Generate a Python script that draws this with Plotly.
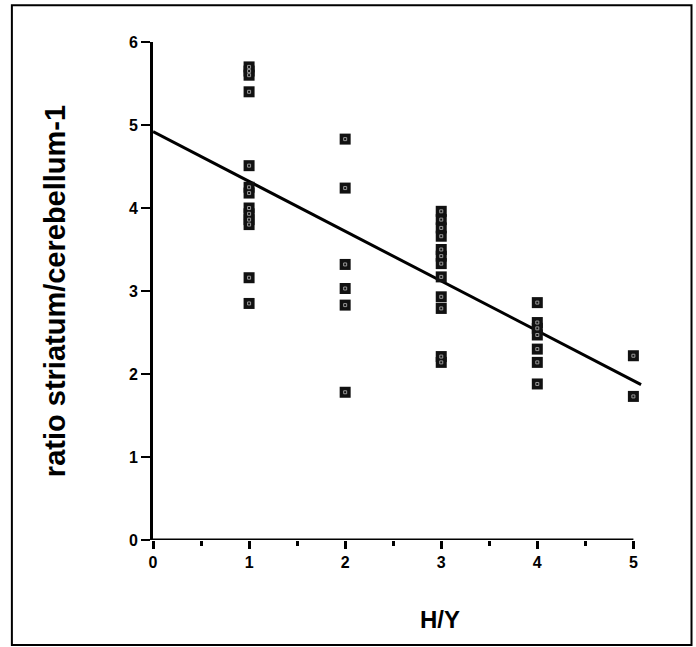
import plotly.graph_objects as go

# Data
hy_stage = [1]*13 + [2]*6 + [3]*12 + [4]*7 + [5]*2
ratio = [5.70, 5.65, 5.60, 5.40, 4.51, 4.25, 4.18, 4.00, 3.93, 3.86, 3.80, 3.16, 2.85,
         4.83, 4.24, 3.32, 3.03, 2.83, 1.78,
         3.96, 3.86, 3.76, 3.66, 3.50, 3.42, 3.33, 3.17, 2.93, 2.79, 2.21, 2.14,
         2.86, 2.62, 2.55, 2.47, 2.30, 2.14, 1.88,
         2.22, 1.73]

fit_intercept = 4.92
fit_slope = -0.60
fit_x = [0, 5.08]
fit_y = [fit_intercept + fit_slope * v for v in fit_x]

x_ticks = [0, 1, 2, 3, 4, 5]
y_ticks = [0, 1, 2, 3, 4, 5, 6]

FONT = "Liberation Sans"

fig = go.Figure()
fig.add_trace(go.Scatter(x=fit_x, y=fit_y, mode="lines",
                         line=dict(color="black", width=3), hoverinfo="skip"))
fig.add_trace(go.Scatter(x=hy_stage, y=ratio, mode="markers",
                         marker=dict(symbol="square", size=11, color="#111",
                                     line=dict(width=0)), cliponaxis=False))
fig.add_trace(go.Scatter(x=hy_stage, y=ratio, mode="markers",
                         marker=dict(symbol="square-open", size=3, color="#999",
                                     line=dict(width=1, color="#999")), cliponaxis=False))

fig.update_layout(
    width=696, height=647,
    margin=dict(l=153, r=53.4, t=42, b=107),
    paper_bgcolor="white", plot_bgcolor="white",
    showlegend=False,
    font=dict(family=FONT, color="black"),
    xaxis=dict(range=[0, 5.1], tickvals=x_ticks, ticks="outside", ticklen=8,
               tickwidth=3, tickcolor="black", showline=False, showgrid=False,
               zeroline=False,
               tickfont=dict(size=16, family=FONT, weight="bold"),
               minor=dict(tickvals=[0.5, 1.5, 2.5, 3.5, 4.5], ticks="outside",
                          ticklen=5, tickwidth=3, tickcolor="black")),
    yaxis=dict(range=[0, 6], tickvals=y_ticks, ticks="outside", ticklen=9,
               tickwidth=2, tickcolor="black", showline=True, linewidth=3,
               linecolor="black", showgrid=False, zeroline=False,
               tickfont=dict(size=16, family=FONT, weight="bold"),
               title=dict(text="ratio striatum/cerebellum-1",
                          font=dict(size=29, family=FONT, weight="bold"),
                          standoff=55)),
    annotations=[
        dict(text="H/Y", xref="paper", yref="paper", x=(440 - 153) / 489.6,
             y=(540 - 619) / 498, xanchor="center", yanchor="middle",
             showarrow=False, font=dict(size=24, family=FONT, weight="bold")),
    ],
    shapes=[
        dict(type="line", xref="x", yref="y", x0=0, x1=5, y0=0, y1=0,
             line=dict(color="black", width=3)),
        dict(type="rect", xref="paper", yref="paper",
             x0=-0.288, x1=1.099, y0=-0.211, y1=1.074,
             line=dict(color="black", width=2)),
    ],
)

fig.write_html("out.html")
